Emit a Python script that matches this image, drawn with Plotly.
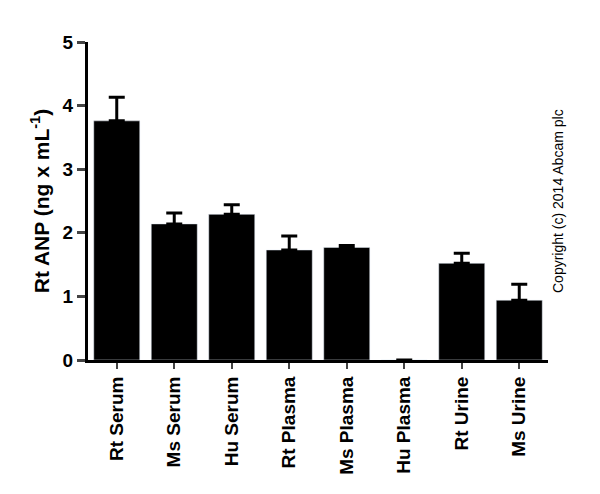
import plotly.graph_objects as go

categories = ["Rt Serum", "Ms Serum", "Hu Serum", "Rt Plasma", "Ms Plasma", "Hu Plasma", "Rt Urine", "Ms Urine"]
values = [3.76, 2.14, 2.29, 1.73, 1.77, 0.0, 1.52, 0.94]
errors = [0.37, 0.17, 0.15, 0.22, 0.03, None, 0.16, 0.25]

fig = go.Figure(go.Bar(
    x=categories, y=values,
    error_y=dict(type="data", array=errors, symmetric=False, arrayminus=[0]*len(errors),
                 color="black", thickness=3, width=8),
    marker=dict(color="black"),
    width=0.8,
))

fig.update_layout(
    width=600, height=494,
    margin=dict(l=80, r=60, t=34, b=142),
    plot_bgcolor="white", paper_bgcolor="white",
    font=dict(family="Liberation Sans, Arial", color="black"),
    showlegend=False,
    xaxis=dict(tickangle=-90, tickfont=dict(size=19, family="Liberation Sans, Arial"),
               ticks="outside", ticklen=6, tickwidth=2, showline=True, linecolor="black",
               linewidth=3, tickprefix="<b>", ticksuffix="</b>"),
    yaxis=dict(range=[0, 5], dtick=1, ticks="outside", ticklen=8, tickwidth=3,
               showline=True, linecolor="black", linewidth=3, showgrid=False, zeroline=False,
               tickfont=dict(size=19), tickprefix="<b>", ticksuffix="</b>",
               title=dict(text="<b>Rt ANP (ng x mL<sup>-1</sup>)</b>", font=dict(size=21), standoff=8)),
    annotations=[dict(text="Copyright (c) 2014 Abcam plc", textangle=-90, xref="paper", yref="paper",
                      x=1.0, y=0.5, showarrow=False, font=dict(size=14), xanchor="left")],
)

fig.write_html("out.html")
